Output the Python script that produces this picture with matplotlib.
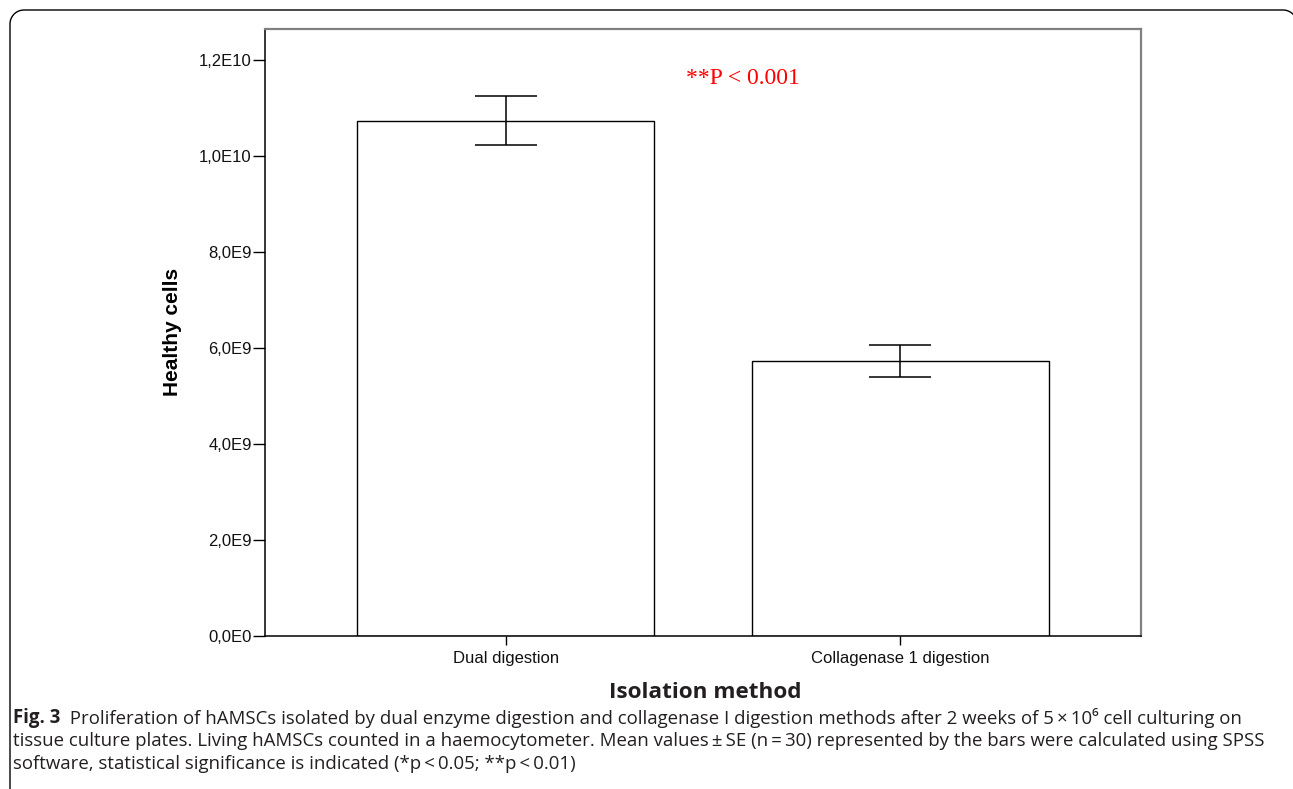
import numpy as np
import matplotlib
matplotlib.use("Agg")
import matplotlib.pyplot as plt
from matplotlib.lines import Line2D

# group means and standard errors (cells)
methods = ["Dual digestion", "Collagenase 1 digestion"]
means = [10.735e9, 5.735e9]
errors = [0.51e9, 0.33e9]

ytick_values = [0, 2e9, 4e9, 6e9, 8e9, 10e9, 12e9]
ytick_labels = ["0,0E0", "2,0E9", "4,0E9", "6,0E9", "8,0E9", "1,0E10", "1,2E10"]

caption_lines = [
    [("Fig. 3", "bold"), ("  Proliferation of hAMSCs isolated by dual enzyme digestion and collagenase I digestion methods after 2 weeks of 5\u2009×\u200910\u2076 cell culturing on", "normal")],
    [("tissue culture plates. Living hAMSCs counted in a haemocytometer. Mean values\u2009±\u2009SE (n\u2009=\u200930) represented by the bars were calculated using SPSS", "normal")],
    [("software, statistical significance is indicated (*p\u2009<\u20090.05; **p\u2009<\u20090.01)", "normal")],
]

W, H = 1293, 789
fig = plt.figure(figsize=(W / 100, H / 100), dpi=100)
fig.patch.set_facecolor("white")

# frame with rounded top corners, in pixels from top-left
r = 14
left, top, right = 10, 10, 1297
t1 = np.linspace(np.pi, np.pi / 2, 20)
t2 = np.linspace(np.pi / 2, 0, 20)
fx = np.concatenate([[left], left + r + r * np.cos(t1), right - r + r * np.cos(t2), [right]])
fy = np.concatenate([[H + 5], top + r - r * np.sin(t1), top + r - r * np.sin(t2), [H + 5]])
fig.add_artist(Line2D(fx / W, 1 - fy / H, transform=fig.transFigure,
                      color="black", linewidth=1.0))

ax = fig.add_axes([265 / W, 1 - 636 / H, (1141 - 265) / W, (636 - 28.5) / H])
x = np.arange(len(methods))
ax.bar(x, means, width=0.753, color="white", edgecolor="black", linewidth=1.0, zorder=2)
ax.errorbar(x, means, yerr=errors, fmt="none", ecolor="black", elinewidth=1.1,
            capsize=22, capthick=1.1, zorder=3)

ax.set_xlim(-0.61, 1.61)
ax.set_ylim(0, 12.66e9)
ax.set_yticks(ytick_values)
ax.set_yticklabels(ytick_labels, fontsize=12, family="Liberation Sans", color="#111111")
ax.set_xticks(x)
ax.set_xticklabels(methods, fontsize=12, family="Liberation Sans", color="#111111")
ax.tick_params(axis="y", direction="out", length=9, width=1.0, pad=0.5)
ax.tick_params(axis="x", direction="out", length=6.5, width=1.0, pad=4)

for side in ["left", "bottom"]:
    ax.spines[side].set_color("black")
    ax.spines[side].set_linewidth(1.1)
for side in ["top", "right"]:
    ax.spines[side].set_color("#808080")
    ax.spines[side].set_linewidth(1.6)

ax.text(0.4575, 11.5e9, "**P < 0.001", color="red", fontsize=17,
        family="Liberation Serif", ha="left", va="baseline")

fig.text(173 / W, 1 - 332 / H, "Healthy cells", rotation=90, ha="center", va="center",
         fontsize=15, fontweight="bold", family="Liberation Sans")
fig.text(705 / W, 1 - 692 / H, "Isolation method", ha="center", va="center",
         fontsize=16.2, fontweight="bold", family="Open Sans", color="#231f20")

# caption, pieces placed one after another on each line
renderer = fig.canvas.get_renderer()
line_y = [718, 741, 764]
for pieces, yc in zip(caption_lines, line_y):
    xpos = 13
    for txt, weight in pieces:
        t = fig.text(xpos / W, 1 - yc / H, txt, ha="left", va="center", fontsize=13.4,
                     fontweight=weight, family=["Open Sans", "DejaVu Sans"], color="#231f20")
        bb = t.get_window_extent(renderer)
        xpos += bb.width

fig.savefig("out.png", dpi=100)
